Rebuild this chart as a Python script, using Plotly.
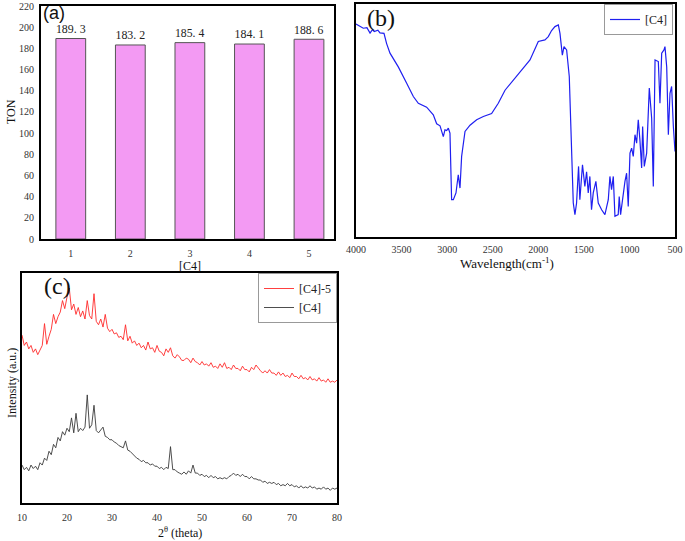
import plotly.graph_objects as go

SERIF = "Liberation Serif, Times New Roman, serif"
SANS = "Liberation Sans, Arial, sans-serif"

# ---------------- (a) TON bars ----------------
runs = [1, 2, 3, 4, 5]
ton = [189.3, 183.2, 185.4, 184.1, 188.6]
ton_ticks = list(range(0, 221, 20))

# ---------------- (b) FT-IR spectrum ----------------
ir_wn = [4000, 3920, 3880, 3846, 3820, 3800, 3760, 3737, 3693, 3664,
         3627, 3536, 3444, 3371, 3316, 3225, 3152, 3115, 3078, 3060,
         3042, 3024, 3005, 2987, 2969, 2951, 2932, 2903, 2878, 2859,
         2841, 2804, 2749, 2676, 2603, 2512, 2439, 2365, 2274, 2182,
         2091, 2000, 1927, 1890, 1854, 1817, 1780, 1762, 1736, 1718,
         1689, 1660, 1635, 1616, 1598, 1580, 1558, 1544, 1515, 1489,
         1470, 1452, 1434, 1416, 1397, 1368, 1342, 1305, 1269, 1232,
         1214, 1196, 1177, 1159, 1123, 1112, 1097, 1067, 1049, 1031,
         1013, 994, 976, 958, 939, 921, 903, 885, 866, 855,
         837, 811, 782, 756, 738, 719, 683, 665, 646, 621,
         610, 591, 573, 555, 537, 518, 500]
ir_t = [91.4, 89.6, 89.8, 87.5, 89.0, 88.2, 88.8, 87.6, 87.4, 83.0,
        78.9, 73.0, 66.0, 60.3, 57.4, 55.7, 52.4, 48.6, 47.7, 45.3,
        43.1, 46.0, 45.7, 46.7, 44.6, 16.0, 16.0, 18.9, 26.7, 21.0,
        34.6, 45.3, 48.0, 50.3, 51.7, 53.0, 57.4, 63.0, 67.4, 71.7,
        76.0, 83.9, 84.6, 86.0, 88.6, 90.3, 91.0, 87.4, 78.0, 81.7,
        80.3, 68.9, 37.4, 14.6, 9.6, 14.6, 30.3, 16.0, 31.0, 21.7,
        28.0, 18.9, 26.0, 11.7, 18.9, 23.9, 14.6, 11.7, 9.6, 16.0,
        26.0, 20.3, 26.0, 8.9, 9.6, 17.4, 9.6, 18.9, 23.9, 27.4,
        13.1, 36.0, 38.1, 34.6, 43.9, 40.3, 50.3, 41.7, 29.6, 47.4,
        30.3, 36.0, 63.9, 51.0, 21.7, 76.0, 75.3, 57.4, 78.9, 80.3,
        81.7, 73.0, 43.9, 61.7, 64.6, 47.4, 36.7]
ir_ticks = [4000, 3500, 3000, 2500, 2000, 1500, 1000, 500]

# ---------------- (c) XRD patterns (2theta 10..80, step 0.5) ----------------
xrd_c4_5 = [73, 68.5, 70, 67, 68.5, 65.5, 67, 64.5, 66.5, 68.5,
            78, 69, 72.5, 75.5, 82, 78, 81, 83, 88, 84.5,
            89.5, 93.5, 84, 86.5, 82, 85, 81, 83.5, 80, 88,
            81.5, 80, 91, 79, 77.5, 80, 76.5, 82, 76, 74.5,
            75.5, 73.5, 74, 72, 72.5, 71, 77.5, 70.5, 72.5, 69.5,
            70.5, 68.5, 69.5, 67.5, 68.5, 66.5, 70, 67, 67.5, 65.5,
            68.5, 66, 65.5, 64, 67, 65.5, 67.5, 64, 63, 64.5,
            63.5, 62, 62, 63, 62.5, 61, 63, 61.5, 61, 60,
            61.5, 60, 60.5, 59.5, 61, 59, 59.5, 58.5, 60.5, 59,
            61, 58.5, 59, 58, 60, 58.5, 58.5, 57.5, 59.5, 58,
            58, 57, 59, 58, 60, 58.5, 57.5, 56.5, 57.5, 56.5,
            58, 56.5, 56.5, 55.5, 57, 55.5, 56.5, 55, 55.5, 54.5,
            56.5, 55, 55, 54, 55.5, 54, 54.5, 53.5, 55, 53.5,
            54, 53, 54.5, 53, 53.5, 52.5, 54, 52.5, 53, 52.5,
            53.5]
xrd_c4 = [16.5, 14.5, 15.5, 14, 16.5, 15, 16, 14.5, 17.5, 16.5,
          19.5, 18.5, 22.5, 21, 25.5, 24, 28.5, 27, 31, 29.5,
          32.5, 31, 37, 30.5, 39, 31, 32.5, 31.5, 33, 47,
          32.5, 34, 42.5, 31.5, 30.5, 32, 33, 29, 28.5, 27.5,
          27.5, 26.5, 26, 25, 24.5, 24, 27, 23, 22.5, 21.5,
          20.5, 19.5, 19, 18, 18.5, 17.5, 17.5, 16.5, 17, 16,
          16, 15, 15.5, 14.5, 15.5, 15, 24.5, 14.5, 14.5, 13.5,
          13, 12.5, 13.5, 12.5, 14, 13, 16.5, 13, 13, 12,
          12.5, 11.5, 12, 11, 12, 11, 11.5, 10.5, 11, 10.5,
          11, 10.5, 11.5, 12, 13, 12, 12.5, 11.5, 12.5, 11.5,
          11.5, 10.5, 11.5, 10.5, 10.5, 10, 10, 9, 9.5, 8.5,
          9, 8.5, 9, 8, 8.5, 7.5, 8, 7.5, 8.5, 7.5,
          8, 7, 7.5, 6.5, 7.5, 6.5, 7, 6.5, 7.5, 6.5,
          7, 6, 6.5, 6, 7, 6, 6.5, 5.5, 6.5, 6,
          6.5]
two_theta = [10 + 0.5 * i for i in range(len(xrd_c4_5))]
xrd_ticks = [10, 20, 30, 40, 50, 60, 70, 80]

W, H = 685, 541


def px(x):
    return x / W


def py(y):
    return 1 - y / H


fig = go.Figure()

# (a)
fig.add_trace(go.Bar(
    x=runs, y=ton, width=0.5,
    text=[f"{v:.1f}".replace(".", ". ") for v in ton],
    textposition="outside", cliponaxis=False,
    textfont=dict(family=SERIF, size=13, color="#222"),
    marker=dict(color="#f39af3", line=dict(color="#555555", width=1)),
    xaxis="x", yaxis="y", showlegend=False, hoverinfo="skip"))

# (b)
fig.add_trace(go.Scatter(
    x=ir_wn, y=ir_t, mode="lines", name="[C4]",
    line=dict(color="#1f1ff0", width=1.2),
    xaxis="x2", yaxis="y2", legend="legend2"))

# (c)
fig.add_trace(go.Scatter(
    x=two_theta, y=xrd_c4_5, mode="lines", name="[C4]-5",
    line=dict(color="#ff2a2a", width=0.9),
    xaxis="x3", yaxis="y3", legend="legend"))
fig.add_trace(go.Scatter(
    x=two_theta, y=xrd_c4, mode="lines", name="[C4]",
    line=dict(color="#3a3a3a", width=0.9),
    xaxis="x3", yaxis="y3", legend="legend"))

frame = dict(showline=True, mirror=True, linecolor="black", linewidth=2,
             showgrid=False, zeroline=False, automargin=False)
tickf = dict(family=SERIF, size=10, color="#333")

fig.update_layout(
    width=W, height=H,
    margin=dict(l=0, r=0, t=0, b=0),
    paper_bgcolor="white", plot_bgcolor="white",
    font=dict(family=SERIF, color="#222"),
    xaxis=dict(domain=[px(41), px(334)], range=[0.5, 5.42], tickvals=runs,
               ticks="outside", ticklen=4, tickcolor="rgba(0,0,0,0)",
               tickfont=tickf, anchor="y", **frame),
    yaxis=dict(domain=[py(239), py(6)], range=[0, 220], tickvals=ton_ticks,
               ticks="outside", ticklen=3, tickcolor="rgba(0,0,0,0)",
               tickfont=tickf, anchor="x", **frame),
    xaxis2=dict(domain=[px(356), px(675)], range=[4000, 500], tickvals=ir_ticks,
                ticks="outside", ticklen=2, tickcolor="rgba(0,0,0,0)",
                tickfont=tickf, anchor="y2", **frame),
    yaxis2=dict(domain=[py(237), py(4)], range=[0, 100], showticklabels=False,
                ticks="", anchor="x2", **frame),
    xaxis3=dict(domain=[px(22), px(337)], range=[10, 80], tickvals=xrd_ticks,
                ticks="outside", ticklen=4, tickcolor="rgba(0,0,0,0)",
                tickfont=tickf, anchor="y3", **frame),
    yaxis3=dict(domain=[py(503), py(273)], range=[0, 100], showticklabels=False,
                ticks="", anchor="x3", **frame),
    legend=dict(x=px(337), xanchor="right", y=py(273), yanchor="top",
                bgcolor="white", bordercolor="#999", borderwidth=1,
                font=dict(family=SERIF, size=12, color="#222"),
                itemwidth=30, tracegroupgap=0),
    legend2=dict(x=px(673), xanchor="right", y=py(4), yanchor="top",
                 bgcolor="white", bordercolor="#999", borderwidth=1,
                 font=dict(family=SERIF, size=12, color="#222"),
                 itemwidth=30),
)

ann = [
    dict(text="(a)", x=px(54), y=py(13), size=18, fam=SANS),
    dict(text="(b)", x=px(381), y=py(18), size=24),
    dict(text="(c)", x=px(57), y=py(286), size=24),
    dict(text="TON", x=px(11), y=py(112), size=12, angle=-90),
    dict(text="[C4]", x=px(190), y=py(266), size=12),
    dict(text="Wavelength(cm<sup>-1</sup>)", x=px(507), y=py(263), size=13),
    dict(text="Intensity (a.u.)", x=px(12), y=py(383), size=12, angle=-90),
    dict(text="2<sup>θ</sup> (theta)", x=px(180), y=py(532), size=12),
]
for a in ann:
    fig.add_annotation(text=a["text"], x=a["x"], y=a["y"], xref="paper", yref="paper",
                       showarrow=False, textangle=a.get("angle", 0),
                       font=dict(family=a.get("fam", SERIF), size=a["size"], color="#111"),
                       xanchor="center", yanchor="middle")

fig.write_html("out.html", config={"displayModeBar": False},
               post_script="document.body.style.margin='0';document.body.style.overflow='hidden';")
